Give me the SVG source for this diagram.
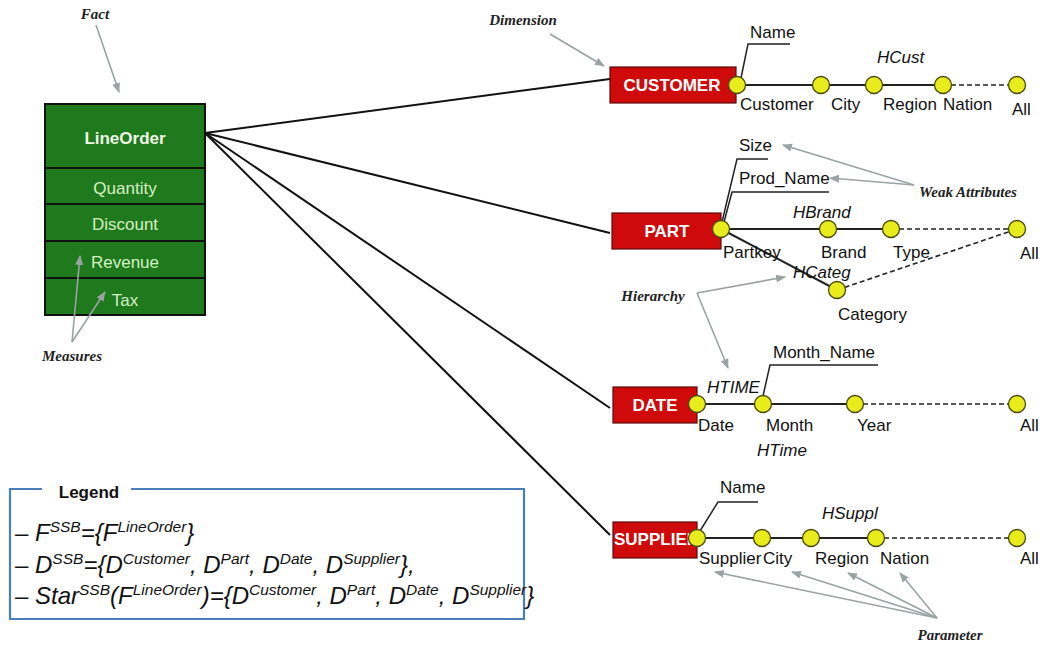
<svg xmlns="http://www.w3.org/2000/svg" width="1043" height="666" viewBox="0 0 1043 666">
<style>
.lbl{font-family:"Liberation Sans",Arial,sans-serif;font-size:17px;fill:#111}
.hier{font-family:"Liberation Sans",Arial,sans-serif;font-size:17px;font-style:italic;fill:#111}
.ann{font-family:"Liberation Serif","Times New Roman",serif;font-size:15px;font-style:italic;font-weight:bold;fill:#222}
.dimt{font-family:"Liberation Sans",Arial,sans-serif;font-size:17px;font-weight:bold;fill:#fff}
.dim{fill:#cf0a0a;stroke:#5a0a0a;stroke-width:1.2}
.lvl{fill:#e8ec1c;stroke:#4a4a10;stroke-width:1.3}
.roll{stroke:#222;stroke-width:2;fill:none}
.dash{stroke:#222;stroke-width:1.6;stroke-dasharray:5 3;fill:none}
.weak{stroke:#222;stroke-width:1.5;fill:none}
.conn{stroke:#111;stroke-width:2;fill:none}
.note{stroke:#9aa3a3;stroke-width:1.6;fill:none;marker-end:url(#ah)}
.fact{fill:#1e7a1c;stroke:#111;stroke-width:2}
.facth{font-family:"Liberation Sans",Arial,sans-serif;font-size:17px;font-weight:bold;fill:#eef8e6}
.factm{font-family:"Liberation Sans",Arial,sans-serif;font-size:17px;fill:#d6f0c4}
.leg{font-family:"Liberation Sans",Arial,sans-serif;font-size:24px;font-style:italic;fill:#111}
.sup{font-size:15.5px}
</style>
<defs>
<marker id="ah" viewBox="0 0 10 10" refX="9" refY="5" markerWidth="10" markerHeight="10" markerUnits="userSpaceOnUse" orient="auto">
<path d="M0,1 L10,5 L0,9 z" fill="#9aa3a3"/>
</marker>
</defs>
<rect width="1043" height="666" fill="#fff"/>

<g id="connectors">
<line class="conn" x1="205" y1="133" x2="610" y2="79"/>
<line class="conn" x1="205" y1="133" x2="610" y2="233"/>
<line class="conn" x1="205" y1="133" x2="610" y2="408"/>
<line class="conn" x1="205" y1="133" x2="610" y2="535"/>
</g>

<g id="fact-LineOrder">
<rect class="fact" x="45" y="104" width="160" height="64"/>
<rect class="fact" x="45" y="168" width="160" height="36"/>
<rect class="fact" x="45" y="204" width="160" height="37"/>
<rect class="fact" x="45" y="241" width="160" height="37"/>
<rect class="fact" x="45" y="278" width="160" height="37"/>
<text class="facth" x="125" y="144" text-anchor="middle">LineOrder</text>
<text class="factm" x="125" y="194" text-anchor="middle">Quantity</text>
<text class="factm" x="125" y="230" text-anchor="middle">Discount</text>
<text class="factm" x="125" y="268" text-anchor="middle">Revenue</text>
<text class="factm" x="125" y="306" text-anchor="middle">Tax</text>
</g>

<g id="dim-customer">
<line class="roll" x1="737" y1="85" x2="943" y2="85"/>
<line class="dash" x1="943" y1="85" x2="1017" y2="85"/>
<polyline class="weak" points="741,78 748,44 790,44"/>
<rect class="dim" x="610" y="67" width="126" height="36"/>
<text class="dimt" x="672" y="91" text-anchor="middle">CUSTOMER</text>
<ellipse class="lvl" cx="737" cy="85" rx="8.5" ry="8.5"/>
<ellipse class="lvl" cx="821" cy="85" rx="8.5" ry="8.5"/>
<ellipse class="lvl" cx="874" cy="85" rx="8.5" ry="8.5"/>
<ellipse class="lvl" cx="943" cy="85" rx="8.5" ry="8.5"/>
<ellipse class="lvl" cx="1017" cy="85" rx="8.5" ry="8.5"/>
<text class="lbl" x="750" y="38">Name</text>
<text class="hier" x="877" y="63">HCust</text>
<text class="lbl" x="740" y="110">Customer</text>
<text class="lbl" x="831" y="110">City</text>
<text class="lbl" x="883" y="110">Region</text>
<text class="lbl" x="943" y="110">Nation</text>
<text class="lbl" x="1012" y="115">All</text>
</g>

<g id="dim-part">
<line class="roll" x1="721" y1="229" x2="891" y2="229"/>
<line class="roll" x1="721" y1="229" x2="837" y2="290"/>
<line class="dash" x1="891" y1="229" x2="1017" y2="229"/>
<line class="dash" x1="837" y1="290" x2="1017" y2="229"/>
<polyline class="weak" points="722,222 737,159 768,159"/>
<polyline class="weak" points="724,222 732,192 829,192"/>
<rect class="dim" x="612" y="213" width="109" height="36"/>
<text class="dimt" x="667" y="237" text-anchor="middle">PART</text>
<ellipse class="lvl" cx="721" cy="229" rx="8.5" ry="8.5"/>
<ellipse class="lvl" cx="828" cy="229" rx="8.5" ry="8.5"/>
<ellipse class="lvl" cx="891" cy="229" rx="8.5" ry="8.5"/>
<ellipse class="lvl" cx="1017" cy="229" rx="8.5" ry="8.5"/>
<ellipse class="lvl" cx="837" cy="290" rx="8.5" ry="8.5"/>
<text class="lbl" x="739" y="151">Size</text>
<text class="lbl" x="739" y="184">Prod_Name</text>
<text class="hier" x="793" y="218">HBrand</text>
<text class="hier" x="793" y="278">HCateg</text>
<text class="lbl" x="723" y="258">Partkey</text>
<text class="lbl" x="821" y="258">Brand</text>
<text class="lbl" x="893" y="258">Type</text>
<text class="lbl" x="1020" y="259">All</text>
<text class="lbl" x="838" y="320">Category</text>
</g>

<g id="dim-date">
<line class="roll" x1="697" y1="404" x2="855" y2="404"/>
<line class="dash" x1="855" y1="404" x2="1017" y2="404"/>
<polyline class="weak" points="763,396 770,365 878,365"/>
<rect class="dim" x="613" y="387" width="84" height="36"/>
<text class="dimt" x="655" y="411" text-anchor="middle">DATE</text>
<ellipse class="lvl" cx="697" cy="404" rx="8.5" ry="8.5"/>
<ellipse class="lvl" cx="763" cy="404" rx="8.5" ry="8.5"/>
<ellipse class="lvl" cx="855" cy="404" rx="8.5" ry="8.5"/>
<ellipse class="lvl" cx="1017" cy="404" rx="8.5" ry="8.5"/>
<text class="lbl" x="773" y="358">Month_Name</text>
<text class="hier" x="707" y="393">HTIME</text>
<text class="lbl" x="698" y="431">Date</text>
<text class="lbl" x="766" y="431">Month</text>
<text class="lbl" x="857" y="431">Year</text>
<text class="lbl" x="1020" y="431">All</text>
<text class="hier" x="757" y="456">HTime</text>
</g>

<g id="dim-supplier">
<line class="roll" x1="697" y1="538" x2="876" y2="538"/>
<line class="dash" x1="876" y1="538" x2="1017" y2="538"/>
<polyline class="weak" points="700,531 718,502 758,502"/>
<rect class="dim" x="613" y="522" width="84" height="36"/>
<text class="dimt" x="614" y="545">SUPPLIER</text>
<ellipse class="lvl" cx="697" cy="538" rx="8.5" ry="8.5"/>
<ellipse class="lvl" cx="762" cy="538" rx="8.5" ry="8.5"/>
<ellipse class="lvl" cx="811" cy="538" rx="8.5" ry="8.5"/>
<ellipse class="lvl" cx="876" cy="538" rx="8.5" ry="8.5"/>
<ellipse class="lvl" cx="1017" cy="538" rx="8.5" ry="8.5"/>
<text class="lbl" x="720" y="493">Name</text>
<text class="hier" x="822" y="519">HSuppl</text>
<text class="lbl" x="699" y="564">Supplier</text>
<text class="lbl" x="763" y="564">City</text>
<text class="lbl" x="815" y="564">Region</text>
<text class="lbl" x="880" y="564">Nation</text>
<text class="lbl" x="1020" y="564">All</text>
</g>

<g id="annotations">
<text class="ann" x="95" y="19" text-anchor="middle">Fact</text>
<line class="note" x1="96" y1="25" x2="119" y2="92"/>
<text class="ann" x="523" y="25" text-anchor="middle">Dimension</text>
<line class="note" x1="550" y1="34" x2="604" y2="66"/>
<text class="ann" x="72" y="361" text-anchor="middle">Measures</text>
<line class="note" x1="72" y1="342" x2="80" y2="256"/>
<line class="note" x1="72" y1="342" x2="105" y2="292"/>
<text class="ann" x="968" y="197" text-anchor="middle">Weak Attributes</text>
<line class="note" x1="914" y1="185" x2="783" y2="145"/>
<line class="note" x1="914" y1="185" x2="830" y2="178"/>
<text class="ann" x="653" y="301" text-anchor="middle">Hierarchy</text>
<line class="note" x1="697" y1="293" x2="785" y2="277"/>
<line class="note" x1="697" y1="293" x2="728" y2="368"/>
<text class="ann" x="950" y="640" text-anchor="middle">Parameter</text>
<line class="note" x1="937" y1="618" x2="715" y2="572"/>
<line class="note" x1="937" y1="618" x2="792" y2="572"/>
<line class="note" x1="937" y1="618" x2="848" y2="573"/>
<line class="note" x1="937" y1="618" x2="900" y2="573"/>
</g>

<g id="legend">
<path d="M42,489 L10,489 L10,619 L524,619 L524,489 L131,489" fill="none" stroke="#4a7ebb" stroke-width="2.2"/>
<text x="89" y="498" text-anchor="middle" style="font-family:'Liberation Sans',Arial,sans-serif;font-size:17px;font-weight:bold;fill:#111">Legend</text>
<text class="leg" x="15" y="541">– F<tspan class="sup" dy="-9">SSB</tspan><tspan dy="9">={F</tspan><tspan class="sup" dy="-9">LineOrder</tspan><tspan dy="9">}</tspan></text>
<text class="leg" x="15" y="573">– D<tspan class="sup" dy="-9">SSB</tspan><tspan dy="9">={D</tspan><tspan class="sup" dy="-9">Customer</tspan><tspan dy="9">, D</tspan><tspan class="sup" dy="-9">Part</tspan><tspan dy="9">, D</tspan><tspan class="sup" dy="-9">Date</tspan><tspan dy="9">, D</tspan><tspan class="sup" dy="-9">Supplier</tspan><tspan dy="9">},</tspan></text>
<text class="leg" x="15" y="604">– Star<tspan class="sup" dy="-9">SSB</tspan><tspan dy="9">(F</tspan><tspan class="sup" dy="-9">LineOrder</tspan><tspan dy="9">)={D</tspan><tspan class="sup" dy="-9">Customer</tspan><tspan dy="9">, D</tspan><tspan class="sup" dy="-9">Part</tspan><tspan dy="9">, D</tspan><tspan class="sup" dy="-9">Date</tspan><tspan dy="9">, D</tspan><tspan class="sup" dy="-9">Supplier</tspan><tspan dy="9">}</tspan></text>
</g>
</svg>
